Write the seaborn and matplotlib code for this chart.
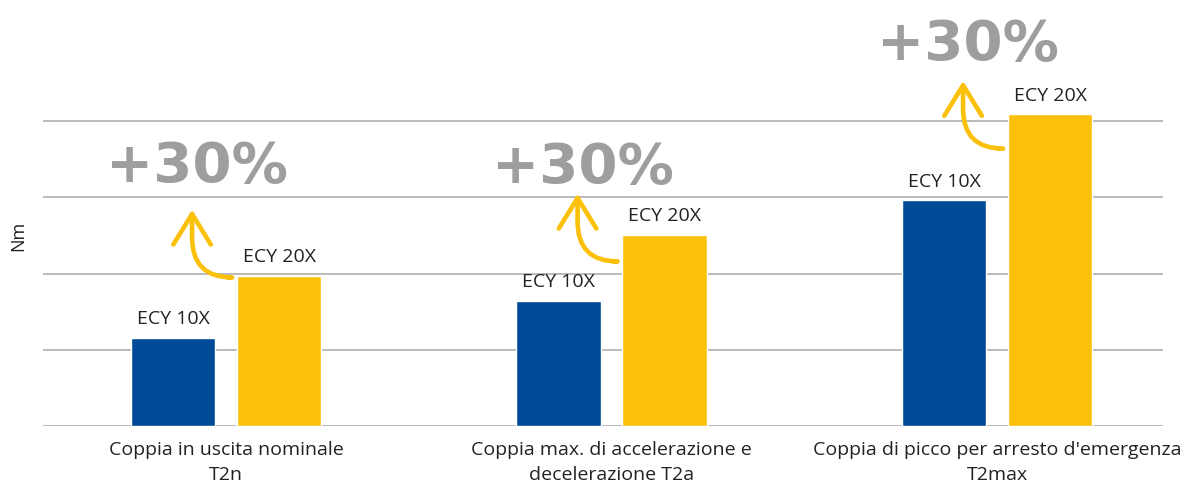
import matplotlib
matplotlib.use("Agg")
import matplotlib.pyplot as plt
import seaborn as sns
import pandas as pd

# ---- data ----
categories = [
    "Coppia in uscita nominale\nT2n",
    "Coppia max. di accelerazione e\ndecelerazione T2a",
    "Coppia di picco per arresto d'emergenza\nT2max",
]
series = ["ECY 10X", "ECY 20X"]
ecy10x = [1.16, 1.64, 2.96]
ecy20x = [1.97, 2.51, 4.09]
increase_labels = ["+30%", "+30%", "+30%"]
y_ticks = [0, 1, 2, 3, 4]
y_label = "Nm"

# ---- layout for annotations (data coords) ----
arrow_tail_y = [1.95, 2.16, 3.64]
arrow_rise = 0.89
pct_baseline_y = [3.20, 3.19, 4.80]

BLUE = "#004B98"
YELLOW = "#FBC10A"
GRAY = "#9E9E9E"
GRID = "#B4B4B4"
TEXT = "#222222"

df = pd.DataFrame({
    "categoria": categories * 2,
    "serie": [series[0]] * len(categories) + [series[1]] * len(categories),
    "valore": ecy10x + ecy20x,
})

sns.set_theme(style="white")
plt.rcParams["font.family"] = ["Open Sans", "DejaVu Sans"]

fig = plt.figure(figsize=(11.97, 4.91), dpi=100)
ax = fig.add_axes([43 / 1197, 65 / 491, 1120 / 1197, 381 / 491])

sns.barplot(data=df, x="categoria", y="valore", hue="serie", order=categories,
            hue_order=series, palette=[BLUE, YELLOW], width=0.55, gap=0.2,
            saturation=1, legend=False, errorbar=None, ax=ax)

for cont, lab in zip(ax.containers, series):
    ax.bar_label(cont, labels=[lab] * len(categories), padding=7,
                 fontsize=14, color=TEXT)

ax.set_xlim(-0.4747, 2.4306)
ax.set_ylim(0, 5)
ax.set_yticks(y_ticks)
ax.grid(axis="y", color=GRID, linewidth=1.3)
ax.grid(axis="x", visible=False)
ax.set_axisbelow(True)
for s in ax.spines.values():
    s.set_visible(False)
ax.tick_params(axis="both", length=0)
ax.tick_params(axis="y", labelleft=False)
ax.tick_params(axis="x", labelsize=14, pad=11, labelcolor=TEXT)
for t in ax.get_xticklabels():
    t.set_linespacing(1.5)
ax.set_xlabel("")
ax.set_ylabel(y_label, fontsize=13, color=TEXT)
ax.yaxis.set_label_coords(-0.0143, 0.5)

for i, lab in enumerate(increase_labels):
    tail = (i + 0.005, arrow_tail_y[i])
    tip = (i - 0.088, arrow_tail_y[i] + arrow_rise)
    ax.annotate("", xy=tip, xytext=tail,
                arrowprops=dict(arrowstyle="->,head_length=2.2,head_width=1.35",
                                connectionstyle="angle,angleA=0,angleB=90,rad=40",
                                color=YELLOW, lw=3.3, shrinkA=0, shrinkB=0,
                                mutation_scale=10, capstyle="round",
                                joinstyle="round"),
                annotation_clip=False)
    ax.text(i - 0.075, pct_baseline_y[i], lab, ha="center", va="baseline",
            fontsize=40.5, fontweight="bold", family="DejaVu Sans", color=GRAY,
            clip_on=False)

fig.savefig("out.png", dpi=100)
